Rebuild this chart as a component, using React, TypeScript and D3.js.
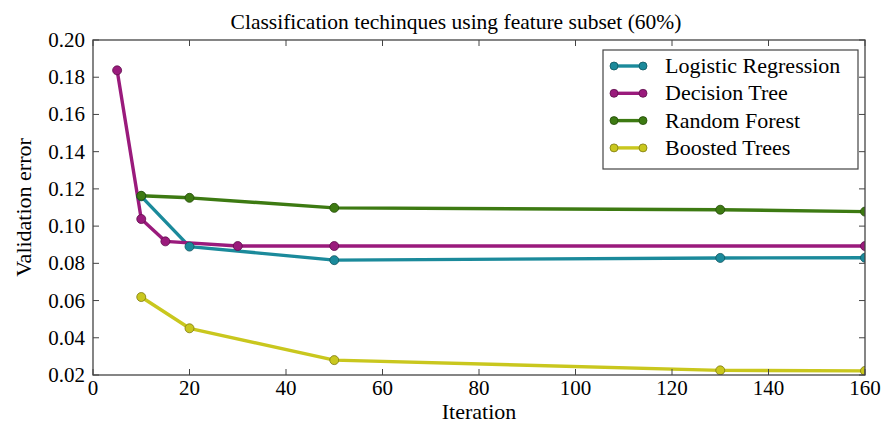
import React from "react";
import * as d3 from "d3";

const seriesNames = ["Logistic Regression", "Decision Tree", "Random Forest", "Boosted Trees"];
const seriesColors = ["#1b8a9b", "#9a1a7c", "#3d7a12", "#c9c71e"];
const markerStroke = ["#0f5560", "#5e0f4b", "#234a08", "#7d7a10"];

const lrX = [10, 20, 50, 130, 160];
const lrY = [0.116, 0.089, 0.0817, 0.0829, 0.083];
const dtX = [5, 10, 15, 30, 50, 160];
const dtY = [0.1837, 0.1038, 0.0918, 0.0893, 0.0893, 0.0893];
const rfX = [10, 20, 50, 130, 160];
const rfY = [0.1163, 0.1152, 0.1098, 0.1088, 0.1078];
const btX = [10, 20, 50, 130, 160];
const btY = [0.0619, 0.0451, 0.028, 0.0225, 0.0222];

const xTicks = [0, 20, 40, 60, 80, 100, 120, 140, 160];
const yTicks = [0.02, 0.04, 0.06, 0.08, 0.1, 0.12, 0.14, 0.16, 0.18, 0.2];

const W = 891, H = 424;
const L = 93, R = 865, T = 40, B = 375;

export default function App() {
  const x = d3.scaleLinear().domain([0, 160]).range([L, R]);
  const y = d3.scaleLinear().domain([0.02, 0.2]).range([B, T]);
  const line = d3.line<[number, number]>().x(d => x(d[0])).y(d => y(d[1]));
  const data: [number, number][][] = [
    lrX.map((v, i) => [v, lrY[i]]),
    dtX.map((v, i) => [v, dtY[i]]),
    rfX.map((v, i) => [v, rfY[i]]),
    btX.map((v, i) => [v, btY[i]]),
  ];
  const font = "'Liberation Serif', 'Times New Roman', serif";
  return (
    <svg width={W} height={H} style={{ position: "absolute", left: 0, top: 0, background: "#fff" }} fontFamily={font}>
      <defs>
        <clipPath id="clip">
          <rect x={L} y={T} width={R - L} height={B - T} />
        </clipPath>
      </defs>
      <text x={456} y={29} textAnchor="middle" fontSize={21.5}>Classification techinques using feature subset (60%)</text>
      <g clipPath="url(#clip)">
        {data.map((d, i) => (
          <path key={i} d={line(d) || ""} fill="none" stroke={seriesColors[i]} strokeWidth={3.4} strokeLinejoin="round" />
        ))}
        {data.map((d, i) => d.map((p, j) => (
          <circle key={i + "-" + j} cx={x(p[0])} cy={y(p[1])} r={4.5} fill={seriesColors[i]} stroke={markerStroke[i]} strokeWidth={0.8} />
        )))}
      </g>
      <rect x={L} y={T} width={R - L} height={B - T} fill="none" stroke="#444" strokeWidth={1.3} />
      {xTicks.map(t => (
        <g key={"x" + t}>
          <line x1={x(t)} x2={x(t)} y1={B} y2={B - 6} stroke="#444" />
          <line x1={x(t)} x2={x(t)} y1={T} y2={T + 6} stroke="#444" />
          <text x={x(t)} y={B + 20} textAnchor="middle" fontSize={21}>{t}</text>
        </g>
      ))}
      {yTicks.map(t => (
        <g key={"y" + t}>
          <line x1={L} x2={L + 6} y1={y(t)} y2={y(t)} stroke="#444" />
          <line x1={R} x2={R - 6} y1={y(t)} y2={y(t)} stroke="#444" />
          <text x={L - 8} y={y(t) + 7} textAnchor="end" fontSize={21}>{t.toFixed(2)}</text>
        </g>
      ))}
      <text x={(L + R) / 2 + 0} y={419} textAnchor="middle" fontSize={22}>Iteration</text>
      <text transform={`translate(31, ${(T + B) / 2}) rotate(-90)`} textAnchor="middle" fontSize={22}>Validation error</text>
      <g>
        <rect x={603} y={50} width={255} height={119} fill="#fff" stroke="#444" strokeWidth={1.2} />
        {seriesNames.map((n, i) => {
          const yy = 66 + i * 27.3;
          return (
            <g key={n}>
              <line x1={614} x2={643} y1={yy} y2={yy} stroke={seriesColors[i]} strokeWidth={3.4} />
              <circle cx={614} cy={yy} r={4} fill={seriesColors[i]} stroke={markerStroke[i]} strokeWidth={0.8} />
              <circle cx={643} cy={yy} r={4} fill={seriesColors[i]} stroke={markerStroke[i]} strokeWidth={0.8} />
              <text x={665} y={yy + 7} fontSize={22}>{n}</text>
            </g>
          );
        })}
      </g>
    </svg>
  );
}
